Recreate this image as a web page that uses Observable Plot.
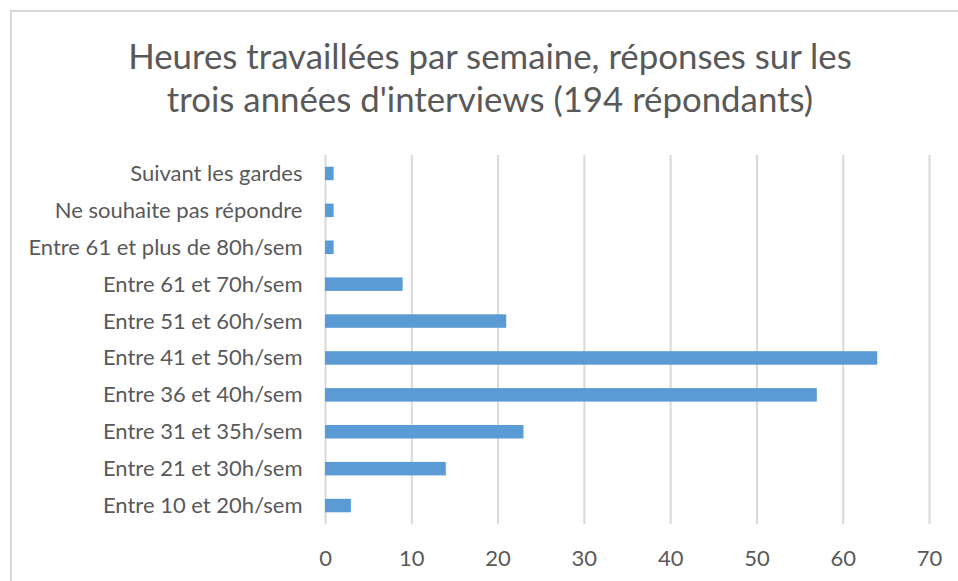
<!DOCTYPE html>
<html>
<head>
<meta charset="utf-8">
<script src="https://cdn.jsdelivr.net/npm/d3@7"></script>
<script src="https://cdn.jsdelivr.net/npm/@observablehq/plot@0.6"></script>
<style>
  html, body { margin: 0; padding: 0; background: #fff; overflow: hidden; }
  #frame { position: absolute; left: 10px; top: 10px; width: 980px; height: 600px;
           border-left: 2px solid #d9d9d9; border-top: 2px solid #d9d9d9; box-sizing: border-box; }
  #title { position: absolute; left: 10px; top: 34px; width: 960px; text-align: center;
           font-family: Lato, sans-serif; font-size: 34.8px; line-height: 43px; color: #595959; }
  #chart { position: absolute; left: 0; top: 130px; }
</style>
</head>
<body>
<div id="frame"></div>
<div id="title">Heures travaillées par semaine, réponses sur les<br>trois années d'interviews (194 répondants)</div>
<div id="chart"></div>
<script>
const categories = [
  "Suivant les gardes",
  "Ne souhaite pas répondre",
  "Entre 61 et plus de 80h/sem",
  "Entre 61 et 70h/sem",
  "Entre 51 et 60h/sem",
  "Entre 41 et 50h/sem",
  "Entre 36 et 40h/sem",
  "Entre 31 et 35h/sem",
  "Entre 21 et 30h/sem",
  "Entre 10 et 20h/sem"
];
const values = [1, 1, 1, 9, 21, 64, 57, 23, 14, 3];
const xTicks = [0, 10, 20, 30, 40, 50, 60, 70];

const data = categories.map((c, i) => ({category: c, value: values[i]}));

const chart = Plot.plot({
  width: 958,
  height: 451,
  marginTop: 25,
  marginBottom: 57,
  marginLeft: 325,
  marginRight: 29,
  style: {fontFamily: "Lato, sans-serif", fontSize: "22px", color: "#595959", background: "transparent"},
  x: {domain: [0, 70], ticks: xTicks, label: null, tickSize: 0, tickPadding: 26},
  y: {domain: categories, padding: 0, round: false, label: null, tickSize: 0, tickPadding: 23},
  marks: [
    Plot.ruleX(xTicks, {stroke: "#d9d9d9", strokeWidth: 2}),
    Plot.barX(data, {x: "value", y: "category", fill: "#5b9bd5", insetTop: 11.7, insetBottom: 11.7}),
    Plot.axisX({ticks: xTicks, tickSize: 0, tickPadding: 26, fontSize: 22, label: null}),
    Plot.axisY({tickSize: 0, tickPadding: 23, fontSize: 22, label: null})
  ]
});
document.getElementById("chart").appendChild(chart);
</script>
</body>
</html>
